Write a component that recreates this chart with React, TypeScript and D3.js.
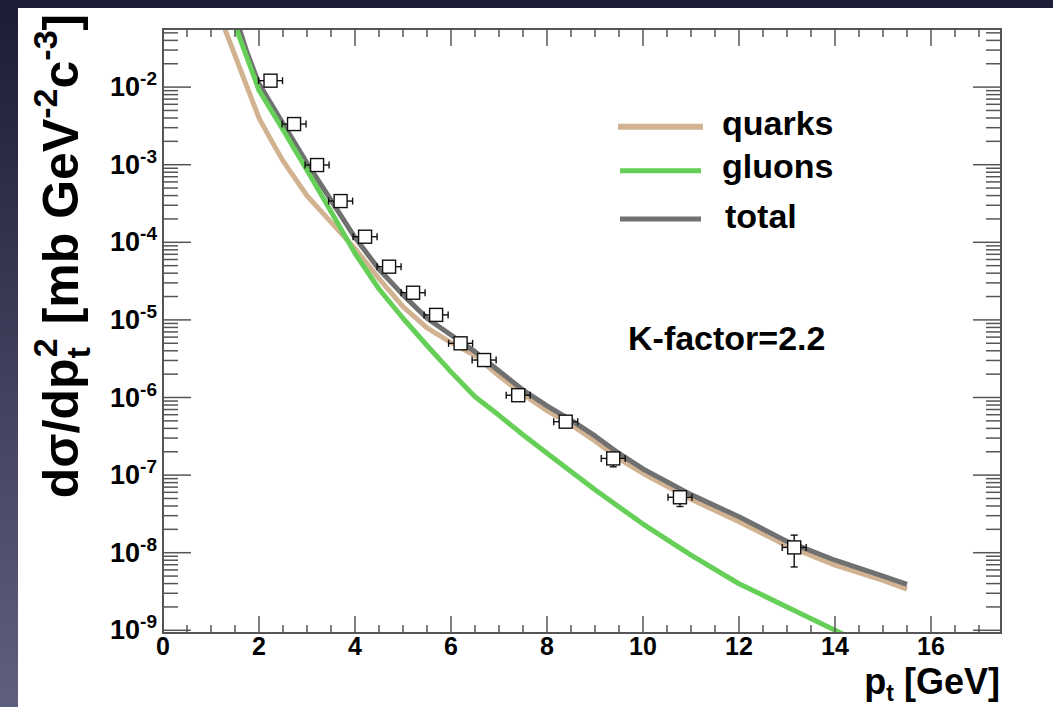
import React from "react";
import * as d3 from "d3";

// ---- data ----
const totalPt = [1.5, 1.75, 2, 2.5, 3, 3.5, 4, 4.5, 5, 5.5, 6, 6.5, 7, 7.5, 8, 8.5, 9, 9.5, 10, 11, 12, 13, 14, 15, 15.5];
const totalVal = [8.5e-2, 2.8e-2, 1.1e-2, 3.4e-3, 1.05e-3, 3.5e-4, 1.15e-4, 4.5e-5, 2.1e-5, 1.05e-5, 6.4e-6, 3.9e-6, 2.2e-6, 1.25e-6, 7.8e-7, 5.1e-7, 3.2e-7, 1.9e-7, 1.2e-7, 5.6e-8, 2.9e-8, 1.4e-8, 8.0e-9, 5.0e-9, 3.9e-9];

const quarkPt = [1.25, 2, 2.25, 2.5, 3, 3.5, 4, 4.5, 5, 5.5, 6, 6.5, 7, 7.5, 8, 8.5, 9, 9.5, 10, 11, 12, 13, 14, 15, 15.5];
const quarkVal = [6.46e-2, 3.98e-3, 2.09e-3, 1.12e-3, 3.98e-4, 1.82e-4, 8.3e-5, 3.4e-5, 1.48e-5, 7.9e-6, 5.1e-6, 3.47e-6, 1.9e-6, 1.1e-6, 6.76e-7, 4.47e-7, 2.75e-7, 1.62e-7, 1.05e-7, 4.9e-8, 2.5e-8, 1.23e-8, 6.9e-9, 4.4e-9, 3.4e-9];

const gluonPt = [1.5, 2, 2.5, 3, 3.5, 4, 4.5, 5, 5.5, 6, 6.5, 7, 7.5, 8, 9, 10, 11, 12, 13, 14, 14.3];
const gluonVal = [6.3e-2, 9.1e-3, 2.82e-3, 8.5e-4, 2.5e-4, 7.2e-5, 2.5e-5, 1.05e-5, 4.68e-6, 2.14e-6, 1.02e-6, 5.89e-7, 3.31e-7, 1.91e-7, 6.46e-8, 2.34e-8, 9.33e-9, 3.98e-9, 2.0e-9, 1.0e-9, 8.1e-10];

const dataPt = [2.24, 2.73, 3.21, 3.7, 4.21, 4.71, 5.21, 5.69, 6.2, 6.69, 7.4, 8.39, 9.38, 10.77, 13.15];
const dataVal = [1.21e-2, 3.34e-3, 9.9e-4, 3.4e-4, 1.18e-4, 4.85e-5, 2.24e-5, 1.16e-5, 4.99e-6, 3.04e-6, 1.07e-6, 4.88e-7, 1.64e-7, 5.18e-8, 1.17e-8];
const dataRelErr = [0.08, 0.08, 0.08, 0.08, 0.08, 0.08, 0.08, 0.08, 0.08, 0.08, 0.1, 0.12, 0.22, 0.24, 0.44];
const dataPtErr = [0.25, 0.25, 0.25, 0.25, 0.25, 0.25, 0.25, 0.25, 0.25, 0.25, 0.25, 0.25, 0.25, 0.25, 0.25];

const xTicks = [0, 2, 4, 6, 8, 10, 12, 14, 16];
const yExponents = [-2, -3, -4, -5, -6, -7, -8, -9];
const legendLabels = ["quarks", "gluons", "total"];

const COL_Q = "#d2b391";
const COL_G = "#66cf58";
const COL_T = "#707070";
const FONT = "'Liberation Sans', Arial, Helvetica, sans-serif";

export default function App() {
  const W = 1053, H = 707;
  const L = 163, R = 1001, T = 29, B = 633;
  const x = d3.scaleLinear().domain([0, 16]).range([163, 931]);
  const y = d3.scaleLog().domain([1e-9, 1e-2]).range([630.3, 87.1]);
  const xMax = x.invert(R);
  const yTop = y.invert(T);
  const yBot = y.invert(B);

  const line = d3.line<[number, number]>().x(d => x(d[0])).y(d => y(d[1]));
  const zip = (a: number[], b: number[]) => a.map((v, i) => [v, b[i]] as [number, number]);

  // ticks
  const xMinor: number[] = d3.range(0, xMax + 1e-6, 0.5);
  const yTicks: { v: number; major: boolean }[] = [];
  for (let e = -10; e <= -1; e++) {
    for (let m = 1; m <= 9; m++) {
      const v = m * Math.pow(10, e);
      if (v >= yBot && v <= yTop) yTicks.push({ v, major: m === 1 });
    }
  }
  const axisCol = "#555";

  const sq = 6.5;
  const cap = 3.5;

  return (
    <svg width={W} height={H} style={{ position: "absolute", left: 0, top: 0 }} xmlns="http://www.w3.org/2000/svg">
      <defs>
        <linearGradient id="bg" x1="0" y1="0" x2="0" y2="1">
          <stop offset="0" stopColor="#1d1c36" />
          <stop offset="1" stopColor="#5e607d" />
        </linearGradient>
        <clipPath id="frame">
          <rect x={L} y={T} width={R - L} height={B - T} />
        </clipPath>
      </defs>
      <rect x={0} y={0} width={W} height={H} fill="url(#bg)" />
      <rect x={18} y={8} width={W - 18} height={H - 8} fill="#fff" />

      {/* curves */}
      <g clipPath="url(#frame)" fill="none" strokeWidth={5} strokeLinejoin="round">
        <path d={line(zip(quarkPt, quarkVal)) || ""} stroke={COL_Q} />
        <path d={line(zip(totalPt, totalVal)) || ""} stroke={COL_T} />
        <path d={line(zip(gluonPt, gluonVal)) || ""} stroke={COL_G} />
      </g>

      {/* data points */}
      <g stroke="#111" strokeWidth={1.4} fill="none">
        {dataPt.map((p, i) => {
          const cx = x(p), cy = y(dataVal[i]);
          const xl = x(p - dataPtErr[i]), xr = x(p + dataPtErr[i]);
          const yu = y(dataVal[i] * (1 + dataRelErr[i]));
          const yd = y(dataVal[i] * (1 - dataRelErr[i]));
          return (
            <g key={i}>
              <line x1={xl} y1={cy} x2={cx - sq} y2={cy} />
              <line x1={cx + sq} y1={cy} x2={xr} y2={cy} />
              <line x1={xl} y1={cy - cap} x2={xl} y2={cy + cap} />
              <line x1={xr} y1={cy - cap} x2={xr} y2={cy + cap} />
              {cy - yu > sq + 1 && (
                <>
                  <line x1={cx} y1={cy - sq} x2={cx} y2={yu} />
                  <line x1={cx - cap} y1={yu} x2={cx + cap} y2={yu} />
                </>
              )}
              {yd - cy > sq + 1 && (
                <>
                  <line x1={cx} y1={cy + sq} x2={cx} y2={yd} />
                  <line x1={cx - cap} y1={yd} x2={cx + cap} y2={yd} />
                </>
              )}
              <rect x={cx - sq} y={cy - sq} width={2 * sq} height={2 * sq} fill="#fff" />
            </g>
          );
        })}
      </g>

      {/* frame and ticks */}
      <g stroke={axisCol} strokeWidth={1.5}>
        <rect x={L} y={T} width={R - L} height={B - T} fill="none" strokeWidth={2} />
        {xMinor.map((t, i) => {
          const major = Math.abs(t / 2 - Math.round(t / 2)) < 1e-6;
          const len = major ? 17 : 8;
          const px = x(t);
          return (
            <g key={"xt" + i}>
              <line x1={px} y1={B} x2={px} y2={B - len} />
              <line x1={px} y1={T} x2={px} y2={T + len} />
            </g>
          );
        })}
        {yTicks.map((t, i) => {
          const len = t.major ? 28 : 15;
          const py = y(t.v);
          return (
            <g key={"yt" + i}>
              <line x1={L} y1={py} x2={L + len} y2={py} />
              <line x1={R} y1={py} x2={R - len} y2={py} />
            </g>
          );
        })}
      </g>

      {/* tick labels */}
      <g fontFamily={FONT} fontWeight="bold" fill="#000">
        {xTicks.map(t => (
          <text key={"xl" + t} x={x(t)} y={655} fontSize={25} textAnchor="middle">{t}</text>
        ))}
        {yExponents.map(e => (
          <text key={"yl" + e} x={157} y={y(Math.pow(10, e)) + 9} fontSize={27} textAnchor="end">
            10<tspan fontSize={19} dy={-11}>{e}</tspan>
          </text>
        ))}
      </g>

      {/* axis titles */}
      <text x={1000} y={694} fontFamily={FONT} fontWeight="bold" fontSize={36} textAnchor="end">
        p<tspan fontSize={23} dy={7}>t</tspan><tspan dy={-7}> [GeV]</tspan>
      </text>
      <text transform="translate(78,256) rotate(-90)" fontFamily={FONT} fontWeight="bold" fontSize={50} textAnchor="middle">
        dσ/dp<tspan fontSize={34} dy={12}>t</tspan><tspan fontSize={34} dx={-10} dy={-33}>2</tspan>
        <tspan dy={21}> [mb GeV</tspan><tspan fontSize={34} dy={-21}>-2</tspan><tspan dy={21}>c</tspan><tspan fontSize={34} dy={-21}>-3</tspan><tspan dy={21}>]</tspan>
      </text>

      {/* legend */}
      <g strokeWidth={6}>
        <line x1={618} y1={126.7} x2={703} y2={126.7} stroke={COL_Q} />
        <line x1={620} y1={170.7} x2={701} y2={170.7} stroke={COL_G} strokeWidth={5} />
        <line x1={620} y1={219} x2={701} y2={219} stroke={COL_T} strokeWidth={5} />
      </g>
      <g fontFamily={FONT} fontWeight="bold" fontSize={34} fill="#000">
        <text x={722} y={135}>{legendLabels[0]}</text>
        <text x={722} y={178}>{legendLabels[1]}</text>
        <text x={725} y={228}>{legendLabels[2]}</text>
        <text x={628} y={350}>K-factor=2.2</text>
      </g>
    </svg>
  );
}
